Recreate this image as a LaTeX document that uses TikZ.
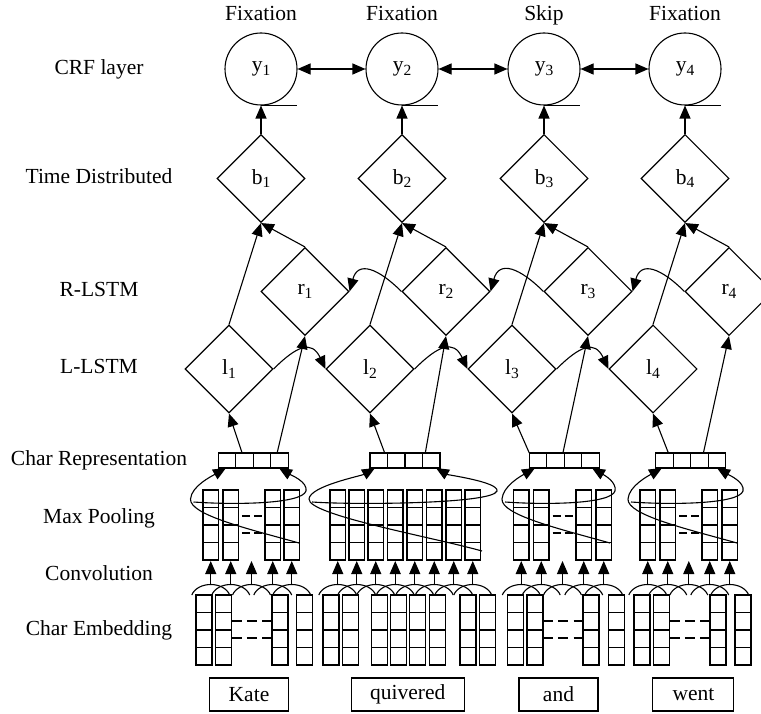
\documentclass[tikz,border=0pt]{standalone}
\usepackage{fontspec}
\setmainfont{Liberation Serif}
\usetikzlibrary{shapes.geometric,arrows.meta,calc}
\newcommand{\fs}{\fontsize{21.5}{25}\selectfont}
\newcommand{\subs}[1]{\raisebox{-0.35ex}{\fontsize{15.5}{16}\selectfont #1}}
\tikzset{
  pcol/.pic={\draw (0,0) rectangle (15.5,70); \draw (0,17.5) -- (15.5,17.5) (0,35) -- (15.5,35) (0,52.5) -- (15.5,52.5);},
  ecol/.pic={\draw (0,0) rectangle (16,70); \draw (0,17.5) -- (16,17.5) (0,35) -- (16,35) (0,52.5) -- (16,52.5);},
}
\newcommand{\convarr}[1]{%
  \draw[arr] (#1,585) -- (#1,561);
  \draw ({#1-19},595) .. controls ({#1-13},581) and ({#1+13},581) .. ({#1+19},595);}
\newcommand{\wloop}[6]{%
  \draw[arr] (#5,#6) .. controls ({#5-50},{#6-14}) and ({#1-1},515) .. (#1,499) .. controls ({#1+1},486) and ({#3-14},476) .. (#3,468);
  \draw[arr] ({#1+3},502) .. controls ({#1+45},505) and ({#2-4},504) .. (#2,491) .. controls ({#2+2},482) and ({#4+12},475) .. (#4,468);}
\begin{document}
\begin{tikzpicture}[x=1pt,y=-1pt,line width=1.1pt,
  arr/.style={-{Triangle[length=13pt,width=11pt]}},
  darr/.style={{Triangle[length=13pt,width=11pt]}-{Triangle[length=13pt,width=11pt]}},
  lbl/.style={font=\fs, inner sep=0pt, text height=15pt, text depth=4.5pt},
  dia/.style={diamond, draw, aspect=1, minimum width=88pt, minimum height=88pt, inner sep=0pt, font=\fs},
  crf/.style={circle, draw, minimum size=72pt, inner sep=0pt, font=\fs},
  wbox/.style={draw, minimum height=33pt, inner sep=0pt, font=\fs},
  crbox/.style={draw, minimum width=70pt, minimum height=15pt, inner sep=0pt, outer sep=0pt},
]
\useasboundingbox (0,0) rectangle (761,714);

% left labels
\node[lbl] (tCRF) at (99,69) {CRF layer};
\node[lbl] (tTD) at (99,178.5) {Time Distributed};
\node[lbl] (tR) at (99,291) {R-LSTM};
\node[lbl] (tL) at (99,368) {L-LSTM};
\node[lbl] (tCR) at (99,460) {Char Representation};
\node[lbl] (tMP) at (99,518) {Max Pooling};
\node[lbl] (tCV) at (99,575) {Convolution};
\node[lbl] (tCE) at (99,630) {Char Embedding};

% upper network
\foreach \i/\x/\t in {1/261/Fixation, 2/402/Fixation, 3/544/Skip, 4/685/Fixation} {
  \node[lbl] (top\i) at (\x,15) {\t};
  \node[crf] (y\i) at (\x,69) {y\subs{\i}};
  \draw (y\i.south) -- ++(36,0);
  \node[dia] (b\i) at (\x,178.5) {b\subs{\i}};
  \node[dia] (l\i) at ({\x-32},369) {l\subs{\i}};
  \node[dia] (r\i) at ({\x+44},291.5) {r\subs{\i}};
  \draw[arr] (b\i.north) -- (y\i.south);
  \draw[arr] (l\i.north) -- (b\i.south);
  \draw[arr] (r\i.north) -- (b\i.south);
}
\foreach \i/\j in {1/2,2/3,3/4} {
  \draw[darr] (y\i.east) -- (y\j.west);
  \draw[arr] (l\i.east) to[out=45,in=115,looseness=1.6] (l\j.west);
  \draw[arr] (r\j.west) to[out=135,in=75,looseness=1.6] (r\i.east);
}

% char representation boxes
\foreach \i/\x in {1/253.3, 2/405, 3/564.3, 4/690.8} {
  \node[crbox] (cr\i) at (\x,460.5) {};
  \foreach \f in {0.25,0.5,0.75}
    \draw ($(cr\i.north west)!\f!(cr\i.north east)$) -- ($(cr\i.south west)!\f!(cr\i.south east)$);
}
\foreach \i/\pa/\pb in {1/0.34/0.84, 2/0.21/0.79, 3/0.0/0.48, 4/0.18/0.68} {
  \draw[arr] ($(cr\i.north west)!\pa!(cr\i.north east)$) -- (l\i.south);
  \draw[arr] ($(cr\i.north west)!\pb!(cr\i.north east)$) -- (r\i.south);
}

% pooling columns
\foreach \x in {203,223,265,284, 330,349,368,387.5,407,426.5,446,465, 513.5,533.5,576,596, 640,660,702,722}
  \pic at (\x,490) {pcol};
% embedding columns
\foreach \x in {196,215.5,272,296.5, 323,342.3,371.6,390.6,409.8,429.6,460,479.2, 507.5,527,583,608.5, 634,653.5,710,735}
  \pic at (\x,595) {ecol};

% convolution arrows
\foreach \x in {210.75,230.75,251.5,272.75,291.75, 337.75,356.75,375.75,395.25,414.75,434.25,453.75,472.75, 521.25,541.25,562.5,583.75,603.75, 647.75,667.75,688.8,709.75,729.75}
  \convarr{\x};

% dashes
\foreach \c in {251.75,562.5,689} {
  \draw[dash pattern=on 8pt off 4pt] ({\c-10},516) -- ({\c+10},516);
  \draw[dash pattern=on 8pt off 4pt] ({\c-10},533) -- ({\c+10},533);
}
\foreach \a/\e in {231.5/272, 543/583, 669.5/710} {
  \draw[dash pattern=on 10pt off 5.25pt] (\a,621) -- (\e,621);
  \draw[dash pattern=on 10pt off 5.25pt] (\a,638) -- (\e,638);
}

% pooling loops
\wloop{190.5}{306}{226}{279}{299}{543}
\wloop{309}{497}{375}{436}{482}{551}
\wloop{502}{615}{535}{592}{610}{543}
\wloop{628}{743}{662}{717}{737}{543}

% words
\node[wbox, minimum width=79pt] (w1) at (249,694.5) {Kate};
\node[wbox, minimum width=113pt] (w2) at (407.7,694.5) {quivered};
\node[wbox, minimum width=79pt] (w3) at (558.5,694.5) {and};
\node[wbox, minimum width=81pt] (w4) at (693.4,694.5) {went};
\end{tikzpicture}
\end{document}
